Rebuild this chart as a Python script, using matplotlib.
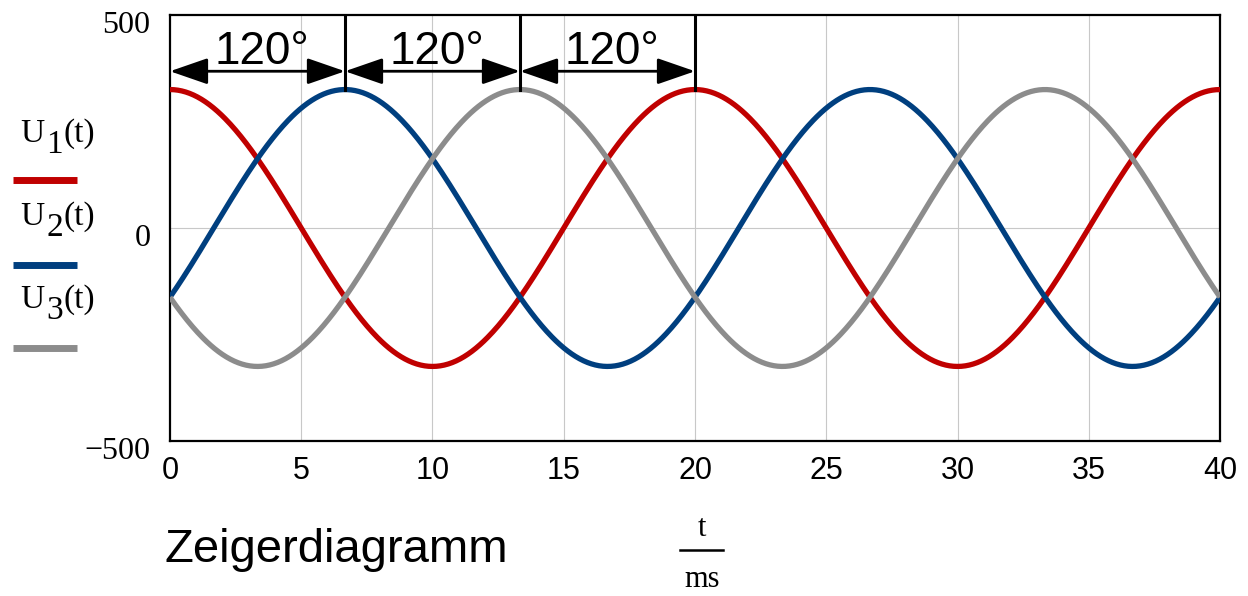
import numpy as np
import matplotlib
matplotlib.use('Agg')
import matplotlib.pyplot as plt
import matplotlib.transforms as mtransforms
from matplotlib.lines import Line2D

# Values: 50 Hz three-phase, peak ~325 V
amplitude = 325
frequency = 50          # Hz (period 20 ms)
phases_deg = [0, -120, 120]
subscripts = ['1', '2', '3']
colours = ['#C00000', '#003F7F', '#8C8C8C']
t_ms = np.linspace(0, 40, 801)

x_ticks = [0, 5, 10, 15, 20, 25, 30, 35, 40]
y_ticks = [-500, 0, 500]
y_labels = ['\u2212500', '0', '500']
shift_marks = [0, 20 / 3, 40 / 3, 20]   # borders of the 120° arrows, ms
shift_label = '120°'

fig = plt.figure(figsize=(12.48, 5.96), dpi=100)
ax = fig.add_axes([0.1362, 0.2601, 0.8414, 0.7147])

# Curves
for ph, col in zip(phases_deg, colours):
    u = amplitude * np.cos(2 * np.pi * frequency * t_ms / 1000 + np.radians(ph))
    ax.plot(t_ms, u, color=col, lw=3.8, solid_capstyle='butt', zorder=3)

ax.set_xlim(0, 40)
ax.set_ylim(-500, 500)
ax.set_xticks(x_ticks)
ax.set_yticks(y_ticks)
ax.set_yticklabels(y_labels, fontfamily='Liberation Serif', fontsize=23)
ax.set_xticklabels([str(v) for v in x_ticks], fontfamily='Liberation Sans', fontsize=22)
ax.tick_params(length=0)
ax.tick_params(axis='x', pad=11)
ax.tick_params(axis='y', pad=14)

# y labels sit a little lower than the tick positions
down = mtransforms.ScaledTranslation(0, -5 / 72, fig.dpi_scale_trans)
for lab in ax.get_yticklabels():
    lab.set_transform(lab.get_transform() + down)

# Grid: verticals at ticks, one horizontal at zero
for v in x_ticks[1:-1]:
    ax.axvline(v, color='#C8C8C8', lw=0.8, zorder=1)
ax.axhline(0, color='#C8C8C8', lw=0.8, zorder=1)

for s in ax.spines.values():
    s.set_linewidth(1.6)
    s.set_color('black')

# 120° annotations
arrow_y = 368
for a, b in zip(shift_marks[:-1], shift_marks[1:]):
    ax.annotate('', xy=(b, arrow_y), xytext=(a, arrow_y),
                arrowprops=dict(arrowstyle='<|-|>,head_length=1.3,head_width=0.45',
                                color='black', lw=2, mutation_scale=18,
                                shrinkA=0, shrinkB=0), zorder=5)
    ax.text((a + b) / 2 + 0.15, arrow_y + 16, shift_label, ha='center', va='baseline',
            fontfamily='Liberation Sans', fontsize=33, zorder=5)
for m in shift_marks[1:]:
    ax.plot([m, m], [500, amplitude], color='black', lw=2.2, zorder=5)

# Legend on the left: U, lowered index, (t), then a line sample
legend_base = [142, 225, 308]      # pixel baselines from the top
line_y = [180, 265, 348]
for sub, col, by, ly in zip(subscripts, colours, legend_base, line_y):
    yb = 1 - by / 596
    fig.text(0.016, yb, 'U', fontfamily='Liberation Serif', fontsize=24, va='baseline')
    fig.text(0.037, yb - 11 / 596, sub, fontfamily='Liberation Serif', fontsize=24, va='baseline')
    fig.text(0.051, yb, '(t)', fontfamily='Liberation Serif', fontsize=24, va='baseline')
    fig.add_artist(Line2D([13 / 1248, 77 / 1248], [1 - ly / 596, 1 - ly / 596], color=col,
                          lw=5, solid_capstyle='butt', transform=fig.transFigure))

# Bottom texts
fig.text(0.132, 1 - 562 / 596, 'Zeigerdiagramm', fontfamily='Liberation Sans', fontsize=34,
         ha='left', va='baseline')
fig.text(0.5625, 1 - 536 / 596, 't', fontfamily='Liberation Serif', fontsize=22,
         ha='center', va='baseline')
fig.add_artist(Line2D([680 / 1248, 723 / 1248], [1 - 550 / 596, 1 - 550 / 596], color='black',
                      lw=1.8, transform=fig.transFigure))
fig.text(0.5625, 1 - 587 / 596, 'ms', fontfamily='Liberation Serif', fontsize=22,
         ha='center', va='baseline')

fig.savefig('out.png', dpi=100)
